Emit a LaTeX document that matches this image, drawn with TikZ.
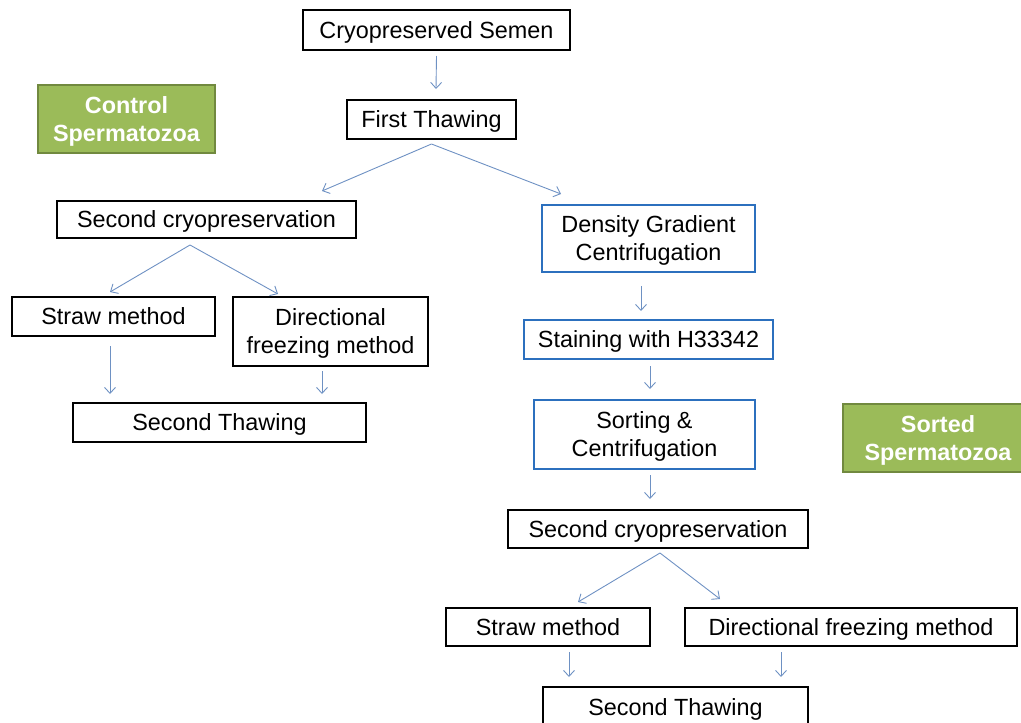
\documentclass[tikz,border=0pt]{standalone}
\usepackage{fontspec}
\setmainfont{Liberation Sans}
\usetikzlibrary{arrows.meta}
\definecolor{boxblue}{RGB}{44,112,190}
\definecolor{arrowblue}{RGB}{110,145,195}
\definecolor{greenfill}{RGB}{155,187,89}
\definecolor{greendraw}{RGB}{113,137,63}
\tikzset{
  base/.style={inner sep=0pt, align=center, text depth=0pt, font=\fontsize{23.4}{28}\selectfont},
  blackbox/.style={base, draw=black, line width=2pt},
  bluebox/.style={base, draw=boxblue, line width=2pt},
  greenbox/.style={base, draw=greendraw, fill=greenfill, line width=2pt, text=white, font=\fontsize{23.4}{28}\selectfont\bfseries},
  arr/.style={draw=arrowblue, line width=0.9pt, -{Straight Barb[length=6pt,width=11pt]}},
}
\begin{document}
\begin{tikzpicture}[x=1pt,y=-1pt]
\useasboundingbox (0,0) rectangle (1021,723);
\node[blackbox, minimum width=267pt, minimum height=40pt] (semen) at (436.5,30) {Cryopreserved Semen};
\node[blackbox, minimum width=169pt, minimum height=39pt] (first) at (431.5,119.5) {First Thawing};
\node[greenbox, minimum width=177pt, minimum height=68pt] (control) at (126.5,119) {Control\\Spermatozoa};
\node[blackbox, minimum width=299pt, minimum height=37pt] (cryoL) at (206.5,219.5) {Second cryopreservation};
\node[bluebox, minimum width=213pt, minimum height=67pt] (dgc) at (648.5,238.5) {Density Gradient\\Centrifugation};
\node[blackbox, minimum width=203pt, minimum height=39pt] (strawL) at (113.5,316.5) {Straw method};
\node[blackbox, minimum width=195pt, minimum height=69pt] (dirL) at (330.5,331.5) {Directional\\freezing method};
\node[blackbox, minimum width=293pt, minimum height=39pt] (thawL) at (219.5,422.5) {Second Thawing};
\node[bluebox, minimum width=249pt, minimum height=39pt] (stain) at (648.5,339.5) {Staining with H33342};
\node[bluebox, minimum width=221pt, minimum height=69pt] (sort) at (644.5,434.5) {Sorting \&\\Centrifugation};
\node[greenbox, minimum width=190pt, minimum height=68pt] (sorted) at (938,438) {Sorted\\Spermatozoa};
\node[blackbox, minimum width=300pt, minimum height=38pt] (cryoR) at (658,529) {Second cryopreservation};
\node[blackbox, minimum width=204pt, minimum height=38pt] (strawR) at (548,627) {Straw method};
\node[blackbox, minimum width=332pt, minimum height=38pt] (dirR) at (851,627) {Directional freezing method};
\node[blackbox, minimum width=265pt, minimum height=40pt] (thawR) at (675.5,707) {Second Thawing};

\draw[arr] ([yshift=-5pt]semen.south) -- ([xshift=4.5pt,yshift=10pt]first.north);
\draw[arr] ([yshift=-4pt]first.south) -- ([xshift=115.5pt,yshift=9pt]cryoL.north);
\draw[arr] ([yshift=-4pt]first.south) -- ([xshift=-87.5pt,yshift=10pt]dgc.north);
\draw[arr] ([xshift=-16.5pt,yshift=-6pt]cryoL.south) -- ([xshift=-3.5pt,yshift=4pt]strawL.north);
\draw[arr] ([xshift=-16.5pt,yshift=-6pt]cryoL.south) -- ([xshift=-52.5pt,yshift=2pt]dirL.north);
\draw[arr] ([xshift=-3.5pt,yshift=-9pt]strawL.south) -- ([xshift=-109.5pt,yshift=8pt]thawL.north);
\draw[arr] ([xshift=-8.5pt,yshift=-4pt]dirL.south) -- ([xshift=102.5pt,yshift=8pt]thawL.north);
\draw[arr] ([xshift=-7.5pt,yshift=-13pt]dgc.south) -- ([xshift=-7.5pt,yshift=8pt]stain.north);
\draw[arr] ([xshift=1.5pt,yshift=-6pt]stain.south) -- ([xshift=5.5pt,yshift=10pt]sort.north);
\draw[arr] ([xshift=5.5pt,yshift=-5pt]sort.south) -- ([xshift=-8pt,yshift=10pt]cryoR.north);
\draw[arr] ([xshift=2pt,yshift=-4pt]cryoR.south) -- ([xshift=30pt,yshift=5pt]strawR.north);
\draw[arr] ([xshift=2pt,yshift=-4pt]cryoR.south) -- ([xshift=-131pt,yshift=8pt]dirR.north);
\draw[arr] ([xshift=21pt,yshift=-5pt]strawR.south) -- ([xshift=-106.5pt,yshift=9pt]thawR.north);
\draw[arr] ([xshift=-70pt,yshift=-5pt]dirR.south) -- ([xshift=105.5pt,yshift=9pt]thawR.north);
\end{tikzpicture}
\end{document}
